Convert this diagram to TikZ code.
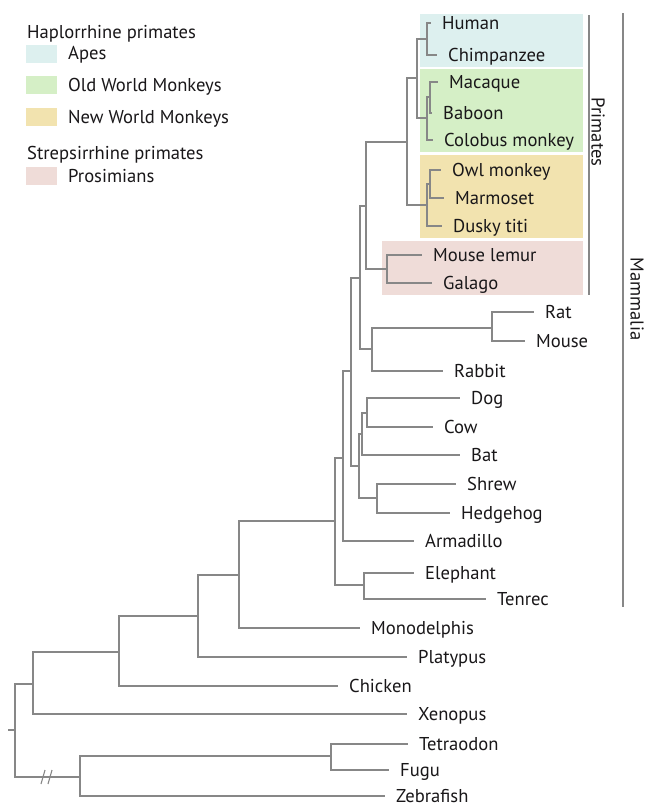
\documentclass[tikz,border=0pt]{standalone}
\usepackage{fontspec}
\setmainfont{PT Sans}
\definecolor{treegray}{RGB}{135,135,135}
\definecolor{txt}{RGB}{25,23,25}
\definecolor{apescol}{RGB}{221,240,239}
\definecolor{owmcol}{RGB}{213,239,198}
\definecolor{nwmcol}{RGB}{242,227,175}
\definecolor{proscol}{RGB}{239,220,216}
\begin{document}
\begin{tikzpicture}[x=1pt,y=-1pt,
  tree/.style={draw=treegray, line width=1.1pt},
  bracket/.style={draw=treegray, line width=1.1pt},
  lab/.style={text=txt, font=\fontsize{18.6}{22}\selectfont, text height=13pt, text depth=0pt, inner ysep=0pt},
  leaf/.style={lab, anchor=west, inner xsep=11pt},
  legtxt/.style={lab, anchor=west, inner xsep=0pt},
  swatch/.style={minimum width=31pt, minimum height=18pt, inner sep=0pt, draw=none}]
\useasboundingbox (0,0) rectangle (646,807);
\fill[white] (0,0) rectangle (646,807);

% coloured group boxes
\fill[apescol] (420,14) rectangle (583,67);
\fill[owmcol] (420,69) rectangle (583,152);
\fill[nwmcol] (420,155) rectangle (583,238);
\fill[proscol] (382,241) rectangle (583,295);

% legend
\node[legtxt] (hap) at (27,32) {Haplorrhine primates};
\node[swatch, fill=apescol] (sw1) at (41.5,54) {};
\node[legtxt] (lg1) at (68,53) {Apes};
\node[swatch, fill=owmcol] (sw2) at (41.5,85) {};
\node[legtxt] (lg2) at (68,85) {Old World Monkeys};
\node[swatch, fill=nwmcol] (sw3) at (41.5,117) {};
\node[legtxt] (lg3) at (68,117) {New World Monkeys};
\node[legtxt] (strep) at (27,153) {Strepsirrhine primates};
\node[swatch, fill=proscol] (sw4) at (41.5,176) {};
\node[legtxt] (lg4) at (68,176) {Prosimians};

% leaves (position = end of branch)
\node[leaf] (human) at (431,23) {Human};
\node[leaf] (chimp) at (437,55) {Chimpanzee};
\node[leaf] (macaque) at (438,82) {Macaque};
\node[leaf] (baboon) at (432,113) {Baboon};
\node[leaf] (colobus) at (433,140) {Colobus monkey};
\node[leaf] (owl) at (441,170) {Owl monkey};
\node[leaf] (marmoset) at (444,198) {Marmoset};
\node[leaf] (dusky) at (442,226) {Dusky titi};
\node[leaf] (lemur) at (422,255) {Mouse lemur};
\node[leaf] (galago) at (432,283) {Galago};
\node[leaf] (rat) at (534,312) {Rat};
\node[leaf] (mouse) at (525,341) {Mouse};
\node[leaf] (rabbit) at (443,371) {Rabbit};
\node[leaf] (dog) at (460,398) {Dog};
\node[leaf] (cow) at (433,427) {Cow};
\node[leaf] (bat) at (460,455) {Bat};
\node[leaf] (shrew) at (456,484) {Shrew};
\node[leaf] (hedgehog) at (450,513) {Hedgehog};
\node[leaf] (armadillo) at (414,541) {Armadillo};
\node[leaf] (elephant) at (414,573) {Elephant};
\node[leaf] (tenrec) at (486,599) {Tenrec};
\node[leaf] (monodelphis) at (360,628) {Monodelphis};
\node[leaf] (platypus) at (407,657) {Platypus};
\node[leaf] (chicken) at (338,686) {Chicken};
\node[leaf] (xenopus) at (407,714) {Xenopus};
\node[leaf] (tetraodon) at (408,744) {Tetraodon};
\node[leaf] (fugu) at (389,770) {Fugu};
\node[leaf] (zebrafish) at (385,796) {Zebrafish};

% internal nodes
\coordinate (apes) at (427,39);
\coordinate (macbab) at (430,97);
\coordinate (owm) at (427,118);
\coordinate (catarrh) at (417,78);
\coordinate (owlmar) at (430,184);
\coordinate (nwm) at (427,205);
\coordinate (haplo) at (407,142);
\coordinate (prosim) at (387,269);
\coordinate (primates) at (366,206);
\coordinate (ratmouse) at (492,328);
\coordinate (glires) at (372,349);
\coordinate (euarch) at (360,278);
\coordinate (dogcow) at (367,413);
\coordinate (dcb) at (362,434);
\coordinate (shrhed) at (377,498);
\coordinate (laur) at (359,466);
\coordinate (boreo) at (351,371);
\coordinate (boreoarm) at (343,458);
\coordinate (afro) at (364,585);
\coordinate (placental) at (335,521);
\coordinate (theria) at (239,575);
\coordinate (mammal) at (198,616);
\coordinate (amniote) at (119,652);
\coordinate (tetrapod) at (33,684);
\coordinate (root) at (15,730);
\coordinate (roottick) at (8,730);
\coordinate (fish) at (80,777);
\coordinate (tetfugu) at (331,756);

% branches
\draw[tree] (apes) |- (human.west);
\draw[tree] (apes) |- (chimp.west);
\draw[tree] (macbab) |- (macaque.west);
\draw[tree] (macbab) |- (baboon.west);
\draw[tree] (owm) |- (macbab);
\draw[tree] (owm) |- (colobus.west);
\draw[tree] (catarrh) |- (apes);
\draw[tree] (catarrh) |- (owm);
\draw[tree] (owlmar) |- (owl.west);
\draw[tree] (owlmar) |- (marmoset.west);
\draw[tree] (nwm) |- (owlmar);
\draw[tree] (nwm) |- (dusky.west);
\draw[tree] (haplo) |- (catarrh);
\draw[tree] (haplo) |- (nwm);
\draw[tree] (prosim) |- (lemur.west);
\draw[tree] (prosim) |- (galago.west);
\draw[tree] (primates) |- (haplo);
\draw[tree] (primates) |- (prosim);
\draw[tree] (ratmouse) |- (rat.west);
\draw[tree] (ratmouse) |- (mouse.west);
\draw[tree] (glires) |- (ratmouse);
\draw[tree] (glires) |- (rabbit.west);
\draw[tree] (euarch) |- (primates);
\draw[tree] (euarch) |- (glires);
\draw[tree] (dogcow) |- (dog.west);
\draw[tree] (dogcow) |- (cow.west);
\draw[tree] (dcb) |- (dogcow);
\draw[tree] (dcb) |- (bat.west);
\draw[tree] (shrhed) |- (shrew.west);
\draw[tree] (shrhed) |- (hedgehog.west);
\draw[tree] (laur) |- (dcb);
\draw[tree] (laur) |- (shrhed);
\draw[tree] (boreo) |- (euarch);
\draw[tree] (boreo) |- (laur);
\draw[tree] (boreoarm) |- (boreo);
\draw[tree] (boreoarm) |- (armadillo.west);
\draw[tree] (afro) |- (elephant.west);
\draw[tree] (afro) |- (tenrec.west);
\draw[tree] (placental) |- (boreoarm);
\draw[tree] (placental) |- (afro);
\draw[tree] (theria) |- (placental);
\draw[tree] (theria) |- (monodelphis.west);
\draw[tree] (mammal) |- (theria);
\draw[tree] (mammal) |- (platypus.west);
\draw[tree] (amniote) |- (mammal);
\draw[tree] (amniote) |- (chicken.west);
\draw[tree] (tetrapod) |- (amniote);
\draw[tree] (tetrapod) |- (xenopus.west);
\draw[tree] (root) |- (tetrapod);
\draw[tree] (root) |- (fish);
\draw[tree] (roottick) -- (root);
\draw[tree] (tetfugu) |- (tetraodon.west);
\draw[tree] (tetfugu) |- (fugu.west);
\draw[tree] (fish) |- (tetfugu);
\draw[tree] (fish) |- (zebrafish.west);

% break mark on the fish branch
\draw[tree] (41,784) -- (45,770);
\draw[tree] (48,784) -- (52,770);

% clade brackets
\coordinate (primtop) at (589,15);
\coordinate (primbot) at (589,295);
\draw[bracket] (primtop) -- (primbot);
\node[lab, rotate=-90, inner xsep=0pt] (primlab) at (598,132) {Primates};
\coordinate (mamtop) at (623,13);
\coordinate (mambot) at (623,607);
\draw[bracket] (mamtop) -- (mambot);
\node[lab, rotate=-90, inner xsep=0pt] (mamlab) at (637,299) {Mammalia};
\end{tikzpicture}
\end{document}
